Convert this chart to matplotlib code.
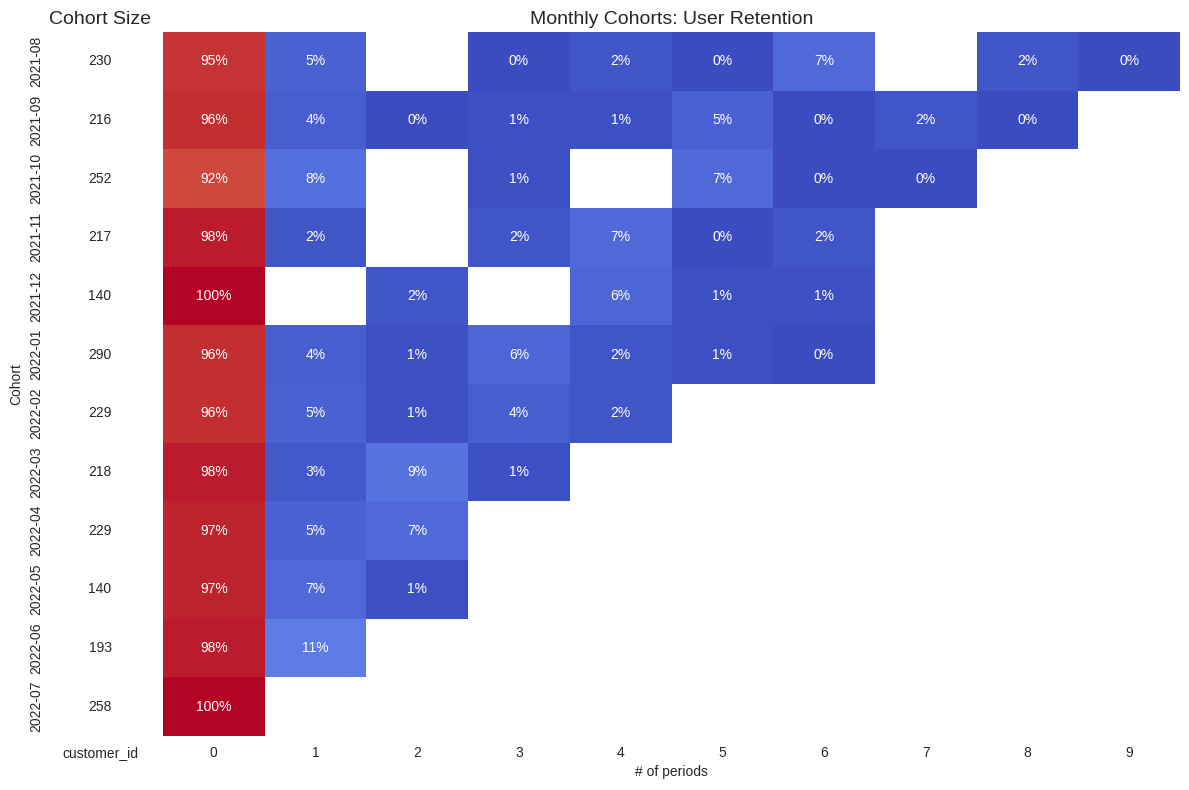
import numpy as np
import pandas as pd
import matplotlib
matplotlib.use("Agg")
import matplotlib.pyplot as plt
import matplotlib.colors as mcolors
import seaborn as sns

nan = np.nan
cohorts = ["2021-08", "2021-09", "2021-10", "2021-11", "2021-12", "2022-01",
           "2022-02", "2022-03", "2022-04", "2022-05", "2022-06", "2022-07"]
periods = list(range(10))
cohort_size = [230, 216, 252, 217, 140, 290, 229, 218, 229, 140, 193, 258]

r_2021_08 = [0.95, 0.05, nan, 0.00, 0.02, 0.00, 0.07, nan, 0.02, 0.00]
r_2021_09 = [0.96, 0.04, 0.00, 0.01, 0.01, 0.05, 0.00, 0.02, 0.00, nan]
r_2021_10 = [0.92, 0.08, nan, 0.01, nan, 0.07, 0.00, 0.00, nan, nan]
r_2021_11 = [0.98, 0.02, nan, 0.02, 0.07, 0.00, 0.02, nan, nan, nan]
r_2021_12 = [1.00, nan, 0.02, nan, 0.06, 0.01, 0.01, nan, nan, nan]
r_2022_01 = [0.96, 0.04, 0.01, 0.06, 0.02, 0.01, 0.00, nan, nan, nan]
r_2022_02 = [0.96, 0.05, 0.01, 0.04, 0.02, nan, nan, nan, nan, nan]
r_2022_03 = [0.98, 0.03, 0.09, 0.01, nan, nan, nan, nan, nan, nan]
r_2022_04 = [0.97, 0.05, 0.07, nan, nan, nan, nan, nan, nan, nan]
r_2022_05 = [0.97, 0.07, 0.01, nan, nan, nan, nan, nan, nan, nan]
r_2022_06 = [0.98, 0.11, nan, nan, nan, nan, nan, nan, nan, nan]
r_2022_07 = [1.00, nan, nan, nan, nan, nan, nan, nan, nan, nan]

retention = pd.DataFrame(
    [r_2021_08, r_2021_09, r_2021_10, r_2021_11, r_2021_12, r_2022_01,
     r_2022_02, r_2022_03, r_2022_04, r_2022_05, r_2022_06, r_2022_07],
    index=pd.Index(cohorts, name="Cohort"), columns=periods)
size_df = pd.DataFrame({"customer_id": cohort_size},
                       index=pd.Index(cohorts, name="Cohort"))

sns.set_style("white")
plt.rcParams["font.family"] = ["Liberation Sans", "DejaVu Sans"]

W, H = 1189, 790
fig = plt.figure(figsize=(W / 100, H / 100), dpi=100)
bot, top = 736, 32
ax0 = fig.add_axes([53 / W, (H - bot) / H, 94 / W, (bot - top) / H])
ax1 = fig.add_axes([163 / W, (H - bot) / H, 1017 / W, (bot - top) / H])

sns.heatmap(retention, mask=retention.isnull(), annot=True, fmt=".0%",
            cmap="coolwarm", vmin=0, vmax=1, cbar=False, ax=ax1)
ax1.set_title("Monthly Cohorts: User Retention", fontsize=14)
ax1.set(xlabel="# of periods", ylabel="")
ax1.set_yticks([])

white_cmap = mcolors.ListedColormap(["white"])
sns.heatmap(size_df, annot=True, cbar=False, fmt="g", cmap=white_cmap, ax=ax0)
ax0.set_title("Cohort Size", fontsize=14)
ax0.set_ylabel("Cohort")
ax0.tick_params(axis="y", rotation=90)

fig.savefig("out.png", dpi=100)
